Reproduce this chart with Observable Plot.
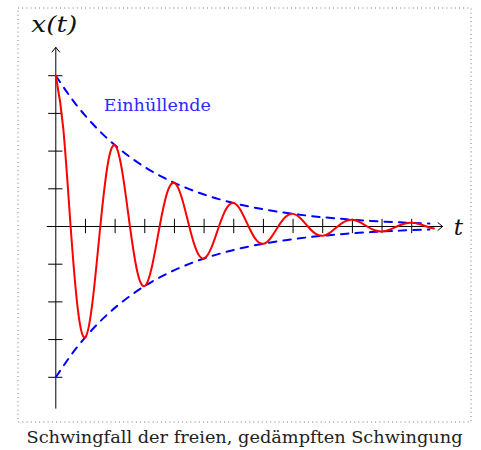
<!DOCTYPE html>
<html>
<head>
<meta charset="utf-8">
<script src="https://cdn.jsdelivr.net/npm/d3@7"></script>
<script src="https://cdn.jsdelivr.net/npm/@observablehq/plot@0.6"></script>
<style>
  html, body { margin: 0; padding: 0; background: #fff; }
  #chart svg { display: block; }
  #chart svg text { font-family: "DejaVu Serif", "Liberation Serif", "DejaVu Sans", sans-serif; }
</style>
</head>
<body>
<div id="chart"></div>
<script>
// Time grid for the oscillation curve
const tCurve = [0, 0.25, 0.5, 0.75, 1, 1.25, 1.5, 1.75, 2, 2.25, 2.5, 2.75, 3, 3.25, 3.5, 3.75,
  4, 4.25, 4.5, 4.75, 5, 5.25, 5.5, 5.75, 6, 6.25, 6.5, 6.75, 7, 7.25, 7.5, 7.75,
  8, 8.25, 8.5, 8.75, 9, 9.25, 9.5, 9.75, 10, 10.25, 10.5, 10.75, 11, 11.25, 11.5, 11.75,
  12, 12.25, 12.5, 12.75];
// Displacement x(t) (red curve)
const xCurve = [4.000, 2.618, 0, -2.242, -2.934, -1.920, 0, 1.644, 2.152, 1.408, 0, -1.206,
  -1.578, -1.033, 0, 0.885, 1.158, 0.757, 0, -0.648, -0.849, -0.556, 0, 0.476,
  0.623, 0.407, 0, -0.349, -0.457, -0.299, 0, 0.256, 0.335, 0.219, 0, -0.188,
  -0.246, -0.161, 0, 0.138, 0.180, 0.118, 0, -0.101, -0.132, -0.086, 0, 0.074,
  0.097, 0.064, 0, -0.054];
// Envelope (blue dashed)
const tEnvelope = [0, 0.5, 1, 1.5, 2, 2.5, 3, 3.5, 4, 4.5, 5, 5.5, 6, 6.5, 7, 7.5, 8, 8.5,
  9, 9.5, 10, 10.5, 11, 11.5, 12, 12.6];
const envelope = [4.000, 3.426, 2.934, 2.513, 2.152, 1.843, 1.578, 1.352, 1.158, 0.991,
  0.849, 0.727, 0.623, 0.533, 0.457, 0.391, 0.335, 0.287, 0.246, 0.210, 0.180, 0.154,
  0.132, 0.113, 0.097, 0.081];
// Tick positions
const xTicks = [1, 2, 3, 4, 5, 6, 7, 8, 9, 10, 11, 12];
const yTicks = [-4, -3, -2, -1, 1, 2, 3, 4];
// Texts
const yLabel = "x(t)";
const xLabel = "t";
const envelopeLabel = "Einhüllende";
const caption = "Schwingfall der freien, gedämpften Schwingung";

const curve = tCurve.map((t, i) => ({t, x: xCurve[i]}));
const env = tEnvelope.map((t, i) => ({t, a: envelope[i]}));

const chart = Plot.plot({
  width: 481,
  height: 450,
  margin: 0,
  x: {domain: [-1.8645, 14.353], axis: null},
  y: {domain: [-5.942, 5.995], axis: null},
  style: {background: "#fff"},
  marks: [
    Plot.frame({stroke: "#777", strokeWidth: 1, strokeDasharray: "1,3.2",
      insetTop: 7.5, insetLeft: 17.5, insetRight: 10.5, insetBottom: 28.5}),
    // axes with arrow heads
    Plot.arrow([{x1: -0.29, x2: 13.04}], {x1: "x1", x2: "x2", y1: () => 0, y2: () => 0,
      stroke: "#000", strokeWidth: 1, headLength: 9, headAngle: 80}),
    Plot.arrow([{y1: -4.82, y2: 4.75}], {y1: "y1", y2: "y2", x1: () => 0, x2: () => 0,
      stroke: "#000", strokeWidth: 1, headLength: 9, headAngle: 80}),
    Plot.ruleX(xTicks, {x: d => d, y1: -0.19, y2: 0.19, stroke: "#000", strokeWidth: 1}),
    Plot.ruleY(yTicks, {y: d => d, x1: -0.24, x2: 0.24, stroke: "#000", strokeWidth: 1}),
    // envelopes
    Plot.line(env, {x: "t", y: "a", curve: "natural", stroke: "#0000ff", strokeWidth: 2,
      strokeDasharray: "7.5,7"}),
    Plot.line(env, {x: "t", y: d => -d.a, curve: "natural", stroke: "#0000ff", strokeWidth: 2,
      strokeDasharray: "7.5,7"}),
    // damped oscillation
    Plot.line(curve, {x: "t", y: "x", curve: "natural", stroke: "#ff0000", strokeWidth: 2}),
    // labels
    Plot.text([envelopeLabel], {x: () => 1.62, y: () => 3.06, text: d => d, textAnchor: "start",
      lineAnchor: "bottom", fill: "#2a2aff", fontSize: 16.5, className: "lab-env"}),
    Plot.text([yLabel], {x: () => -0.05, y: () => 5.154, text: d => d, textAnchor: "middle",
      lineAnchor: "bottom", fill: "#111", fontStyle: "italic", fontSize: 23, className: "lab-y"}),
    Plot.text([xLabel], {x: () => 13.42, y: () => -0.22, text: d => d, textAnchor: "start",
      lineAnchor: "bottom", fill: "#111", fontStyle: "italic", fontSize: 23}),
    Plot.text([caption], {x: () => 6.362, y: () => -5.756, text: d => d, textAnchor: "middle",
      lineAnchor: "bottom", fill: "#222", fontSize: 16, className: "lab-cap"})
  ]
});
// widen texts to the wider metrics of the original typeface
const fit = {"lab-env": 107, "lab-y": 46, "lab-cap": 436};
for (const [cls, len] of Object.entries(fit)) {
  d3.select(chart).selectAll(`g.${cls} text`)
    .attr("textLength", len).attr("lengthAdjust", "spacingAndGlyphs");
}
document.getElementById("chart").appendChild(chart);
</script>
</body>
</html>
